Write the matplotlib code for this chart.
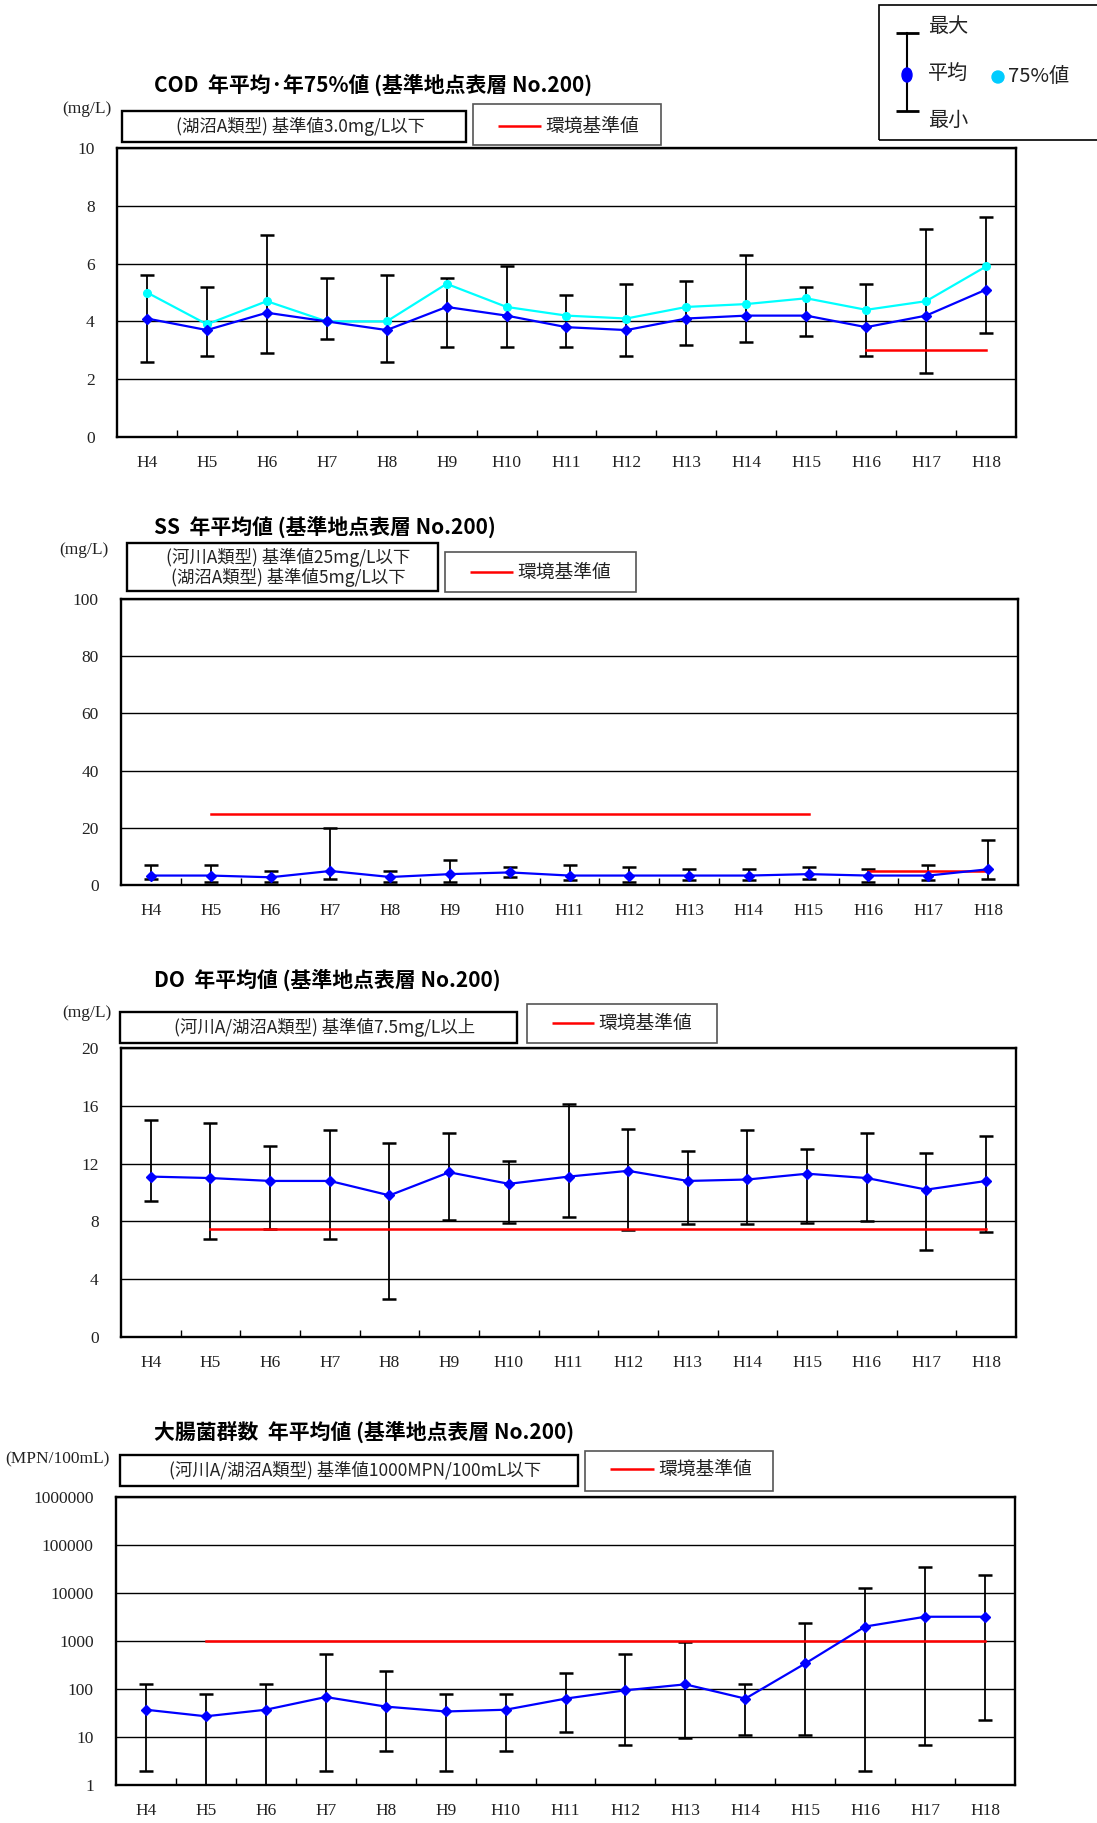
import numpy as np
import matplotlib
matplotlib.use("Agg")
import matplotlib.pyplot as plt
from matplotlib.patches import Rectangle, Ellipse
from matplotlib.lines import Line2D
from matplotlib.ticker import NullLocator

# ---- data -------------------------------------------------------------
years = ["H4", "H5", "H6", "H7", "H8", "H9", "H10", "H11", "H12",
         "H13", "H14", "H15", "H16", "H17", "H18"]

cod_mean = [4.1, 3.7, 4.3, 4.0, 3.7, 4.5, 4.2, 3.8, 3.7, 4.1, 4.2, 4.2, 3.8, 4.2, 5.1]
cod_p75 = [5.0, 3.9, 4.7, 4.0, 4.0, 5.3, 4.5, 4.2, 4.1, 4.5, 4.6, 4.8, 4.4, 4.7, 5.9]
cod_max = [5.6, 5.2, 7.0, 5.5, 5.6, 5.5, 5.9, 4.9, 5.3, 5.4, 6.3, 5.2, 5.3, 7.2, 7.6]
cod_min = [2.6, 2.8, 2.9, 3.4, 2.6, 3.1, 3.1, 3.1, 2.8, 3.2, 3.3, 3.5, 2.8, 2.2, 3.6]
cod_std = [np.nan] * 12 + [3.0, 3.0, 3.0]

ss_mean = [3.3, 3.3, 2.7, 4.9, 2.8, 3.8, 4.4, 3.3, 3.3, 3.3, 3.3, 3.8, 3.3, 3.3, 5.5]
ss_max = [7.1, 7.1, 5.0, 20.0, 5.0, 8.9, 6.2, 7.1, 6.2, 5.5, 5.5, 6.2, 5.5, 7.1, 15.6]
ss_min = [2.2, 1.0, 1.0, 2.2, 1.0, 1.0, 2.8, 1.6, 1.0, 1.6, 1.6, 2.2, 1.0, 1.6, 2.2]
ss_std_river = [np.nan] + [25] * 11 + [np.nan] * 3
ss_std_lake = [np.nan] * 12 + [5, 5, 5]

do_mean = [11.1, 11.0, 10.8, 10.8, 9.8, 11.4, 10.6, 11.1, 11.5, 10.8, 10.9, 11.3, 11.0, 10.2, 10.8]
do_max = [15.0, 14.8, 13.2, 14.3, 13.4, 14.1, 12.2, 16.1, 14.4, 12.9, 14.3, 13.0, 14.1, 12.7, 13.9]
do_min = [9.4, 6.8, 7.5, 6.8, 2.6, 8.1, 7.9, 8.3, 7.4, 7.8, 7.8, 7.9, 8.0, 6.0, 7.3]
do_std = [np.nan] + [7.5] * 14

coli_mean = [37, 27, 37, 68, 43, 34, 37, 63, 94, 125, 63, 340, 2000, 3200, 3200]
coli_max = [125, 80, 125, 545, 233, 80, 80, 219, 545, 940, 125, 2330, 12700, 34300, 23300]
coli_min = [2, 0.9, 0.9, 2, 5, 2, 5, 13, 6.8, 9.4, 11, 11, 2, 6.8, 23]
coli_std = [np.nan] + [1000] * 14

# ---- figure -----------------------------------------------------------
W, H = 1097, 1823
DPI = 100
fig = plt.figure(figsize=(W / DPI, H / DPI), dpi=DPI, facecolor="white")

JP = ["Noto Sans CJK JP", "DejaVu Sans"]
SERIF = ["Liberation Serif", "DejaVu Serif"]
TICK_SIZE = 12.5


def fx(x):
    return x / W


def fy(y):
    return 1 - y / H


def add_axes(left, top, right, bottom):
    return fig.add_axes([fx(left), fy(bottom), (right - left) / W, (bottom - top) / H])


def rect(x0, y0, x1, y1, ec="black", lw=1.6):
    fig.add_artist(Rectangle((fx(x0), fy(y1)), (x1 - x0) / W, (y1 - y0) / H,
                             transform=fig.transFigure, fill=False, ec=ec, lw=lw))


def hline(x0, x1, y, color="red", lw=1.8):
    fig.add_artist(Line2D([fx(x0), fx(x1)], [fy(y), fy(y)], transform=fig.transFigure,
                          color=color, lw=lw, solid_capstyle="butt"))


def text(x, y, s, size=11, ha="left", weight="normal", family=JP, color="#222222"):
    fig.text(fx(x), fy(y), s, ha=ha, va="center", fontsize=size, fontweight=weight,
             family=family, color=color)


def header(title, title_y, unit, unit_x, unit_y, box1, box1_lines, box2, red, red_y):
    text(154, title_y, title, size=15, weight="bold", color="black")
    text(unit_x, unit_y, unit, size=12.5, ha="center", family=SERIF + JP)
    x0, y0, x1, y1 = box1
    rect(x0, y0, x1, y1, ec="black", lw=1.7)
    n = len(box1_lines)
    for i, s in enumerate(box1_lines):
        yy = (y0 + y1) / 2 + (i - (n - 1) / 2) * 20
        text((x0 + x1) / 2 + 6, yy, s, size=12.5, ha="center")
    bx0, by0, bx1, by1 = box2
    rect(bx0, by0, bx1, by1, ec="#555555", lw=1.2)
    hline(red[0], red[1], red_y)
    text(red[1] + 4, red_y, "環境基準値", size=13.5)


xs = np.arange(len(years))


def setup(ax, ylim, yticks, ylabels, log=False):
    if log:
        ax.set_yscale("log")
    ax.set_xlim(-0.5, len(years) - 0.5)
    ax.set_ylim(*ylim)
    ax.set_xticks(xs)
    ax.set_xticklabels(years, family=SERIF, fontsize=TICK_SIZE, color="#222222")
    ax.set_xticks(np.arange(0.5, len(years) - 1, 1), minor=True)
    ax.tick_params(axis="x", which="major", length=0, pad=13)
    ax.tick_params(axis="x", which="minor", direction="in", length=5, width=1)
    ax.set_yticks(yticks)
    ax.set_yticklabels(ylabels, family=SERIF, fontsize=TICK_SIZE, color="#222222")
    ax.yaxis.set_minor_locator(NullLocator())
    ax.tick_params(axis="y", which="both", length=0, pad=16)
    ax.grid(axis="y", color="black", lw=1.0)
    ax.set_axisbelow(True)
    for sp in ax.spines.values():
        sp.set_linewidth(1.7)
        sp.set_color("black")


def draw_series(ax, mean, vmax, vmin):
    mean = np.array(mean, float)
    lo = mean - np.array(vmin, float)
    hi = np.array(vmax, float) - mean
    ax.errorbar(xs, mean, yerr=[lo, hi], fmt="none", ecolor="black", elinewidth=1.3,
                capsize=5, capthick=1.8, zorder=3)


def draw_mean(ax, mean):
    ax.plot(xs, mean, color="#0000FF", lw=1.6, marker="D", ms=5.5, zorder=5)


# ---- COD --------------------------------------------------------------
ax1 = add_axes(117, 148, 1016, 437)
setup(ax1, (0, 10), [0, 2, 4, 6, 8, 10], ["0", "2", "4", "6", "8", "10"])
draw_series(ax1, cod_mean, cod_max, cod_min)
ax1.plot(xs, cod_std, color="red", lw=1.8, zorder=4)
ax1.plot(xs, cod_p75, color="#00FFFF", lw=1.6, marker="o", ms=5.5, zorder=4)
draw_mean(ax1, cod_mean)
header("COD  年平均·年75%値 (基準地点表層 No.200)", 85, "(mg/L)", 87, 109,
       (122, 111, 466, 142), ["(湖沼A類型) 基準値3.0mg/L以下"],
       (473, 104, 661, 145), (498, 541), 126)

# legend box (top right)
rect(879, 5, 1120, 140, ec="black", lw=1.2)
fig.add_artist(Line2D([fx(907), fx(907)], [fy(33), fy(111)], transform=fig.transFigure,
                      color="black", lw=1.5))
for yy in (33, 111):
    hline(896, 919, yy, color="black", lw=2.0)
fig.add_artist(Ellipse((fx(907), fy(75)), 10 / W, 14 / H, transform=fig.transFigure,
                       color="#0000FF", zorder=6))
fig.add_artist(Ellipse((fx(998), fy(77)), 12 / W, 12 / H, transform=fig.transFigure,
                       color="#00CCFF", zorder=6))
text(928, 27, "最大", size=14.5)
text(928, 73, "平均", size=14.5)
text(928, 120, "最小", size=14.5)
text(1008, 76, "75%値", size=14.5)

# ---- SS ---------------------------------------------------------------
ax2 = add_axes(121, 599, 1018, 885)
setup(ax2, (0, 100), [0, 20, 40, 60, 80, 100], ["0", "20", "40", "60", "80", "100"])
draw_series(ax2, ss_mean, ss_max, ss_min)
ax2.plot(xs, ss_std_river, color="red", lw=1.8, zorder=4)
ax2.plot(xs, ss_std_lake, color="red", lw=1.8, zorder=4)
draw_mean(ax2, ss_mean)
header("SS  年平均値 (基準地点表層 No.200)", 527, "(mg/L)", 84, 550,
       (127, 543, 438, 591), ["(河川A類型) 基準値25mg/L以下", "(湖沼A類型) 基準値5mg/L以下"],
       (445, 552, 636, 592), (470, 513), 572)

# ---- DO ---------------------------------------------------------------
ax3 = add_axes(121, 1048, 1016, 1337)
setup(ax3, (0, 20), [0, 4, 8, 12, 16, 20], ["0", "4", "8", "12", "16", "20"])
draw_series(ax3, do_mean, do_max, do_min)
ax3.plot(xs, do_std, color="red", lw=1.8, zorder=4)
draw_mean(ax3, do_mean)
header("DO  年平均値 (基準地点表層 No.200)", 980, "(mg/L)", 87, 1013,
       (120, 1012, 517, 1043), ["(河川A/湖沼A類型) 基準値7.5mg/L以上"],
       (527, 1004, 717, 1043), (552, 594), 1023)

# ---- coliform (log scale) ---------------------------------------------
ax4 = add_axes(116, 1497, 1015, 1785)
log_ticks = [1, 10, 100, 1000, 10000, 100000, 1000000]
setup(ax4, (1, 1000000), log_ticks, [str(v) for v in log_ticks], log=True)
draw_series(ax4, coli_mean, coli_max, coli_min)
ax4.plot(xs, coli_std, color="red", lw=1.8, zorder=4)
draw_mean(ax4, coli_mean)
header("大腸菌群数  年平均値 (基準地点表層 No.200)", 1432, "(MPN/100mL)", 57, 1459,
       (120, 1455, 578, 1486), ["(河川A/湖沼A類型) 基準値1000MPN/100mL以下"],
       (585, 1451, 773, 1491), (610, 654), 1469)

fig.savefig("out.png", dpi=DPI, facecolor="white")
